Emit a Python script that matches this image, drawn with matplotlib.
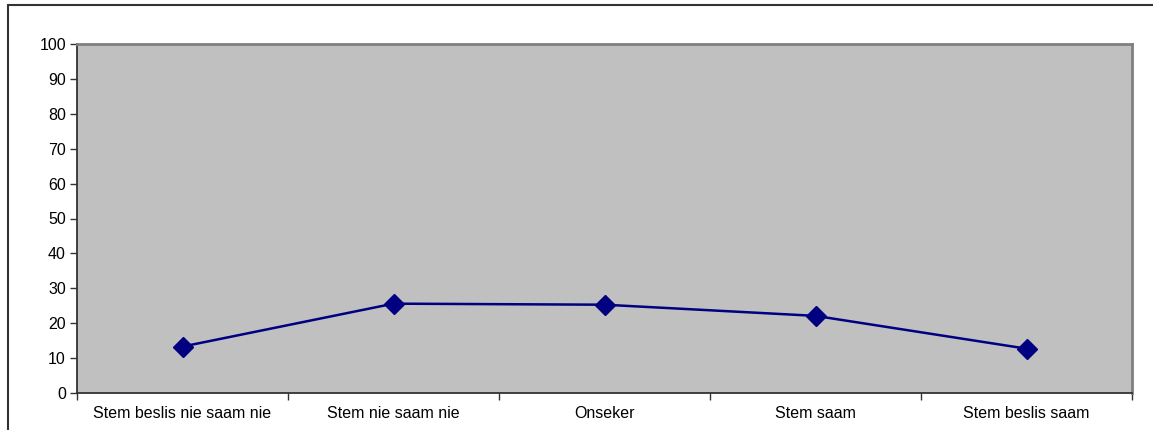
import matplotlib
matplotlib.use("Agg")
import matplotlib.pyplot as plt
from matplotlib.patches import Rectangle

categories = ["Stem beslis nie saam nie", "Stem nie saam nie", "Onseker", "Stem saam", "Stem beslis saam"]
values = [13.3, 25.6, 25.3, 22.1, 12.7]
yticks = list(range(0, 101, 10))

plt.rcParams['font.family'] = ['Liberation Sans', 'DejaVu Sans']

W, H = 1153, 430
fig = plt.figure(figsize=(W / 100, H / 100), dpi=100)
fig.patch.set_facecolor('white')

# outer chart frame (only left and top visible in the reference)
fig.patches.append(Rectangle((8 / W, -0.1), 1.2, 1.1 - 5 / H, transform=fig.transFigure,
                             fill=False, edgecolor='#333333', linewidth=1.5, zorder=0))

left, right, top, bottom = 77, 1132, 44, 393
ax = fig.add_axes([left / W, 1 - bottom / H, (right - left) / W, (bottom - top) / H])
ax.set_facecolor('#C0C0C0')

x = list(range(len(categories)))
ax.plot(x, values, color='#000080', linewidth=1.8, marker='D', markersize=10,
        markerfacecolor='#000080', markeredgecolor='#000080', zorder=3, clip_on=False)

ax.set_xlim(-0.5, len(categories) - 0.5)
ax.set_ylim(0, 100)
ax.set_yticks(yticks)
ax.set_yticklabels([str(t) for t in yticks], fontsize=11.5)
ax.set_xticks(x)
ax.set_xticklabels(categories, fontsize=11.5)
ax.set_xticks([i - 0.5 for i in range(len(categories) + 1)], minor=True)
ax.tick_params(axis='x', which='major', length=0, pad=9)
ax.tick_params(axis='x', which='minor', length=5, width=1, color='#333333', direction='out')
ax.tick_params(axis='y', which='major', length=5, width=1, color='#333333', direction='out', pad=3)

for s in ['left', 'bottom']:
    ax.spines[s].set_color('#333333')
    ax.spines[s].set_linewidth(1.3)
for s in ['top', 'right']:
    ax.spines[s].set_color('#808080')
    ax.spines[s].set_linewidth(2)

fig.savefig('out.png', dpi=100)
